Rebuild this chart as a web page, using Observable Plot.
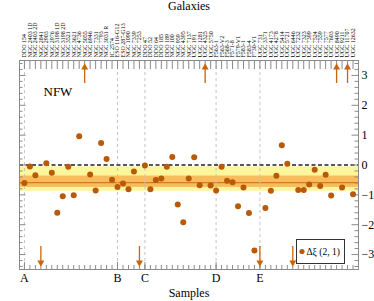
<!DOCTYPE html>
<html><head><meta charset="utf-8">
<script src="https://cdn.jsdelivr.net/npm/d3@7"></script>
<script src="https://cdn.jsdelivr.net/npm/@observablehq/plot@0.6"></script>
<style>body{margin:0;background:#fff}</style>
</head><body><div id="chart"></div>
<script>
// ---- data ----
const galaxies = [
  "DDO 154","NGC 2403 1D","NGC 2403 2D","NGC 2841","NGC 2903","NGC 2976","NGC 3198 1D","NGC 3198 2D",
  "NGC 3521","NGC 3621","NGC 4736","NGC 5055","NGC 6946","NGC 7331","NGC 7793","NGC 3031 R","IC 2574",
  "ESO 116-G12","ESO 287-G13","NGC 1090","NGC 7339","NGC 7253",
  "DDO 47","DDO 52","DDO 64","DDO 185","DDO 189","NGC 100","NGC 959","NGC 4395","NGC 7137","UGC 191","UGC 1281","UGC 4325","UGC 5750",
  "F563-1","F563-V2","F568-3","F571-8","F579-V1","F583-1","F583-4","F730-V1",
  "UGC 731","UGC 3371","UGC 4173","UGC 4278","UGC 5414","UGC 5721","UGC 6446","UGC 7232","UGC 7323",
  "UGC 7399","UGC 7524","UGC 7559","UGC 7577","UGC 7603","UGC 8490","UGC 9211","UGC 11707","UGC 12632"
];
const deltaXi = [
  -0.60,-0.05,-0.34,null,0.06,-0.26,-1.60,-1.05,-0.06,-1.01,0.96,null,-0.32,-0.85,0.74,0.20,-0.49,
  -0.74,-0.62,-0.81,-0.22,null,
  -0.02,-0.81,-0.50,-0.45,-0.06,0.27,-1.32,-1.92,-0.45,0.26,-0.68,null,-0.69,
  -0.85,-0.06,-0.53,-0.58,-1.38,-0.75,-1.61,-2.86,
  null,-1.44,-0.86,-0.36,0.66,0.04,null,-0.84,-0.84,-0.65,-0.16,-0.70,-0.33,-1.02,null,-0.75,null,-0.98
];
const upArrows = [11, 33, 57, 59];
const downArrows = [3, 21, 43, 49];
const sampleLabels = ["A","B","C","D","E"];
const sampleStarts = [0, 17, 22, 35, 43];
const meanValue = -0.59;
const innerBand = [-0.75, -0.37];
const outerBand = [-0.88, -0.06];
const yTicks = [-3,-2,-1,0,1,2,3];
const yMinor = d3.range(-17, 18).map(k => k / 5).filter(v => Math.abs(v - Math.round(v)) > 1e-9);

// ---- styling ----
const ptColor = "#b85a08";
const arrowColor = "#c9650f";
const axisGray = "#8a8a8a";
const W = 374, H = 301, mT = 60, mB = 32, mL = 19, mR = 16;
const fw = W - mL - mR, fh = H - mT - mB;
const idx = d3.range(galaxies.length);
const points = deltaXi.map((v, i) => ({i, v})).filter(d => d.v != null);

const chart = Plot.plot({
  width: W, height: H,
  marginTop: mT, marginBottom: mB, marginLeft: mL, marginRight: mR,
  style: {fontFamily: "'Liberation Serif','Times New Roman',serif", color: "black", background: "white"},
  x: {domain: [-0.9, 61], axis: null},
  y: {domain: [-3.5, 3.5], axis: null},
  marks: [
    Plot.rect([outerBand], {y1: d => d[0], y2: d => d[1], fill: "#fdf69c"}),
    Plot.rect([innerBand], {y1: d => d[0], y2: d => d[1], fill: "#f9bc5c"}),
    Plot.ruleY([meanValue], {stroke: "#d9781c", strokeWidth: 1.4}),
    Plot.ruleX(sampleStarts, {stroke: "#c4c4c4", strokeDasharray: "3,3"}),
    Plot.ruleY([0], {stroke: "#222", strokeWidth: 1.3, strokeDasharray: "4,2.5"}),
    // ticks (inward)
    Plot.tickX(idx, {x: d => d, stroke: axisGray, insetBottom: fh - 9}),
    Plot.tickX(idx, {x: d => d, stroke: axisGray, insetTop: fh - 4}),
    Plot.tickX(sampleStarts, {x: d => d, stroke: axisGray, insetTop: fh - 7}),
    Plot.tickY(yMinor, {y: d => d, stroke: axisGray, insetRight: fw - 3.5}),
    Plot.tickY(yTicks, {y: d => d, stroke: axisGray, insetRight: fw - 6.5}),
    Plot.tickY(yMinor, {y: d => d, stroke: axisGray, insetLeft: fw - 3.5}),
    Plot.tickY(yTicks, {y: d => d, stroke: axisGray, insetLeft: fw - 6.5}),
    Plot.frame({stroke: axisGray}),
    // points
    Plot.dot(points, {x: "i", y: "v", r: 3.0, fill: ptColor}),
    // off-scale arrows
    Plot.ruleX(upArrows, {x: d => d, y1: 2.73, y2: 3.25, stroke: arrowColor, strokeWidth: 1.3}),
    Plot.dot(upArrows, {x: d => d, y: 3.27, symbol: "triangle", r: 2.6, fill: arrowColor}),
    Plot.ruleX(downArrows, {x: d => d, y1: -2.73, y2: -3.25, stroke: arrowColor, strokeWidth: 1.3}),
    Plot.dot(downArrows, {x: d => d, y: -3.27, symbol: "triangle", rotate: 180, r: 2.6, fill: arrowColor}),
    // axes
    Plot.axisX(idx, {anchor: "top", tickFormat: i => galaxies[i], tickRotate: -90, tickSize: 0, tickPadding: 3, fontSize: 6, label: null}),
    Plot.axisX(sampleStarts, {anchor: "bottom", tickFormat: d => sampleLabels[sampleStarts.indexOf(d)], tickSize: 0, tickPadding: 4, fontSize: 12, label: null}),
    Plot.axisY(yTicks, {anchor: "right", tickFormat: d => d < 0 ? "\u2212" + (-d) : String(d), tickSize: 0, tickPadding: 3, fontSize: 12, label: null}),
    Plot.text(["Galaxies"], {frameAnchor: "top", dy: -54, lineAnchor: "middle", fontSize: 12}),
    Plot.text(["Samples"], {frameAnchor: "bottom", dy: 24, lineAnchor: "middle", fontSize: 12}),
    Plot.text(["NFW"], {frameAnchor: "top-left", dx: 24, dy: 31, lineAnchor: "middle", textAnchor: "start", fontSize: 13})
  ]
});

// legend box
const svg = d3.select(chart);
const g = svg.append("g").attr("text-anchor", "start");
g.append("rect").attr("x", 296.5).attr("y", 239.5).attr("width", 48).attr("height", 24)
  .attr("fill", "white").attr("stroke", "#333");
g.append("circle").attr("cx", 302).attr("cy", 251.5).attr("r", 2.6).attr("fill", ptColor);
g.append("text").attr("x", 306.5).attr("y", 255).attr("font-size", 9.5).attr("fill", "black")
  .attr("text-anchor", "start").text("\u0394\u03BE (2, 1)");

document.getElementById("chart").appendChild(chart);
</script>
</body></html>
